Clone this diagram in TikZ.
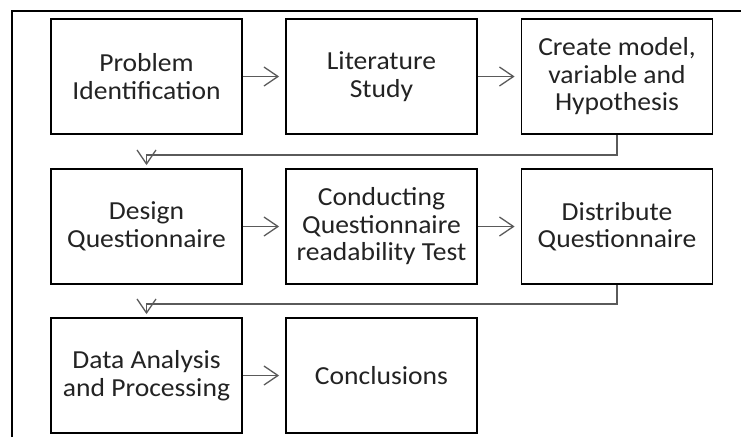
\documentclass[tikz,border=0pt]{standalone}
\usepackage{fontspec}
\setmainfont[FakeStretch=1.06]{Carlito}
\definecolor{stepline} {RGB}{90,90,90}
\definecolor{steptext} {RGB}{35,35,35}
\usetikzlibrary{arrows.meta,positioning}
\tikzset{
  stage/.style={rectangle,draw=black,line width=1.8pt,fill=white,
                text=steptext,minimum width=191pt,minimum height=115pt,
                font=\fontsize{26}{27.5}\selectfont,align=center,inner sep=2pt},
  flow/.style={-{Straight Barb[length=14pt,width=19pt,line width=1.3pt]},
               line width=1.3pt,color=stepline,#1},
  flow/.default={},
}

\begin{document}
\begin{tikzpicture}[x=1pt,y=-1pt,
  frame/.style={line width=1.6pt,color=black}
]
  \useasboundingbox (0,0) rectangle (741,437);

  % outer frame (only left and top edges fall inside)
  \draw[frame] (12,437) -- (12,11) -- (741,11);

  % Row 1
  \node[stage] (ident) at (146.5,76.5) {Problem\\Identification};
  \node[stage] (lit)   at (381.5,76.5) {Literature\\Study};
  \node[stage] (hypo)  at (617,76.5)   {Create model,\\variable and\\Hypothesis};

  % Row 2
  \node[stage] (design) at (146.5,226.5) {Design\\Questionnaire};
  \node[stage] (read)   at (381.5,226.5) {Conducting\\Questionnaire\\readability Test};
  \node[stage] (distr)  at (617,226.5)   {Distribute\\Questionnaire};

  % Row 3
  \node[stage] (data) at (146.5,375.5) {Data Analysis\\and Processing};
  \node[stage] (conc) at (381.5,375.5) {Conclusions};

  % arrows within rows
  \draw[flow={shorten >=6pt}] (ident) -- (lit);
  \draw[flow={shorten >=6pt}] (lit) -- (hypo);
  \draw[flow={shorten >=6pt}] (design) -- (read);
  \draw[flow={shorten >=6pt}] (read) -- (distr);
  \draw[flow={shorten >=6pt}] (data) -- (conc);

  % return arrows to the next row
  \draw[flow={shorten >=3pt}] (hypo.south) -- ++(0,20) -| (design.north);
  \draw[flow={shorten >=3pt}] (distr.south) -- ++(0,19) -| (data.north);

\end{tikzpicture}
\end{document}
